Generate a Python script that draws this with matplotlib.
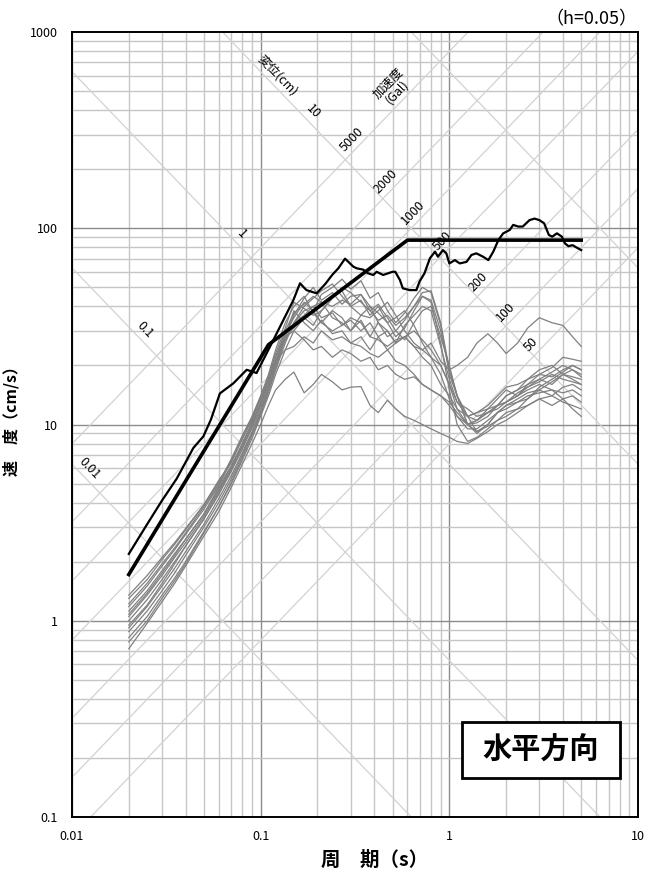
import numpy as np
import matplotlib
matplotlib.use("Agg")
import matplotlib.pyplot as plt
from matplotlib.patches import Rectangle
from matplotlib.ticker import NullFormatter

plt.rcParams['font.family'] = ['Noto Sans CJK JP', 'DejaVu Sans']

# period grid (s) shared by the gray records
period = [0.02, 0.025, 0.03, 0.035, 0.04, 0.05, 0.06, 0.07, 0.08, 0.09,
          0.1, 0.11, 0.12, 0.135, 0.15, 0.17, 0.19, 0.21, 0.24, 0.27,
          0.3, 0.34, 0.38, 0.42, 0.47, 0.52, 0.58, 0.65, 0.72, 0.8,
          0.9, 1.0, 1.1, 1.25, 1.4, 1.6, 1.8, 2.0, 2.3, 2.6,
          3.0, 3.5, 4.0, 4.5, 5.0]

# pseudo velocity (cm/s), gray records
gray_1 = [1.30, 1.62, 2.05, 2.45, 2.9, 3.9, 5.2, 6.4, 8.6, 10.5, 13.5, 17, 22, 29, 35, 42, 38, 46, 50, 55,
          49, 54, 44, 47, 38, 33, 37, 44, 50, 47, 32, 18, 14, 11, 10.5, 12, 13.5, 15, 14, 16, 17, 16, 18, 19, 17.5]
gray_2 = [1.12, 1.42, 1.8, 2.2, 2.6, 3.5, 4.8, 6.2, 8.0, 10.2, 12.5, 16, 21, 28, 36, 44, 50, 43, 47, 41,
          45, 46, 38, 41, 35, 30, 34, 40, 47, 48, 33, 19, 14, 11, 9.2, 10, 11.5, 12.5, 13.5, 14.5, 15, 14, 15.5, 16, 15]
gray_3 = [0.95, 1.2, 1.55, 1.95, 2.4, 3.3, 4.4, 5.8, 7.5, 9.6, 12, 15.5, 20, 27, 33, 40, 44, 48, 52, 45,
          40, 43, 36, 40, 33, 28, 31, 38, 45, 42, 26, 15, 10, 8.2, 8.6, 9.5, 10.5, 11, 12, 12.5, 13.5, 12.5, 13.5, 14, 13]
gray_4 = [1.22, 1.55, 1.95, 2.35, 2.8, 3.8, 5.0, 6.7, 8.8, 11, 14, 18, 24, 33, 40, 45, 37, 33, 38, 35,
          30, 34, 28, 33, 30, 26, 32, 36, 40, 38, 25, 17, 13, 11, 11.5, 12.5, 14, 15.5, 16, 17, 18, 17.5, 19, 20, 19]
gray_5 = [1.05, 1.35, 1.7, 2.1, 2.5, 3.4, 4.6, 6.0, 7.8, 9.8, 12.5, 16, 21, 27, 33, 38, 40, 35, 37, 32,
          34, 30, 33, 28, 30, 26, 28, 25, 24, 26, 21, 19, 20, 22, 26, 29, 26, 23, 26, 31, 35, 33, 32, 28, 25]
gray_6 = [0.88, 1.12, 1.42, 1.75, 2.15, 3.0, 4.0, 5.3, 7.0, 9.0, 11.5, 15, 20, 28, 38, 33, 30, 34, 29, 30,
          26, 28, 24, 28, 24, 21, 20, 18, 16, 15, 14, 12.5, 11, 10, 10.5, 11.5, 12.5, 14, 15, 17, 19, 20, 18, 17, 16]
gray_7 = [0.72, 0.97, 1.25, 1.55, 1.9, 2.7, 3.6, 4.8, 6.3, 8.0, 10, 12.5, 15, 17, 18.5, 14.5, 16, 18, 16.5, 15,
          15.5, 15.6, 12.5, 11.5, 13.3, 12, 11, 10.5, 10, 9.5, 9, 8.6, 8.2, 8.0, 8.5, 9.2, 10, 10.5, 11.5, 12.5, 13.5, 14, 13, 12.5, 12]
gray_8 = [0.82, 1.05, 1.35, 1.65, 2.0, 2.85, 3.8, 5.0, 6.6, 8.5, 11, 14, 18, 24, 30, 27, 24, 25, 22, 24,
          23, 21, 22, 19, 20, 18, 17, 17.5, 16, 15, 14, 13, 11.5, 10, 9.2, 9.8, 10.5, 11.5, 12, 13.5, 15, 16.5, 18, 17.5, 17]
gray_9 = [1.0, 1.28, 1.62, 2.0, 2.4, 3.3, 4.5, 5.9, 7.7, 9.9, 12.8, 16.5, 22, 28, 30, 35, 32, 38, 44, 48,
          40, 36, 35, 38, 42, 36, 30, 26, 24, 22, 20, 16, 12, 10, 9, 10, 11.5, 12.5, 13, 13.5, 15.5, 17, 18.5, 20, 19]
gray_10 = [1.18, 1.5, 1.9, 2.3, 2.75, 3.7, 4.9, 6.5, 8.4, 10.8, 13.8, 17.5, 23, 31, 42, 39, 36, 38, 44, 50,
           47, 42, 38, 34, 36, 32, 35, 40, 45, 43, 30, 19, 14, 10, 10.5, 11.5, 12, 13, 14, 15, 16, 15, 14.5, 15, 14]
gray_11 = [0.92, 1.18, 1.5, 1.85, 2.25, 3.1, 4.2, 5.5, 7.2, 9.2, 11.8, 15, 19, 28, 31, 35, 38, 33, 30, 32,
           35, 33, 28, 27, 25, 27, 28, 25, 22, 20, 16, 14, 12, 11, 11.5, 12, 12.5, 13, 14.5, 15.5, 17, 18.5, 20, 19, 18]
gray_12 = [1.08, 1.38, 1.75, 2.15, 2.6, 3.5, 4.7, 6.1, 8.0, 10.3, 13, 17, 22, 30, 37, 41, 45, 42, 40, 43,
           41, 46, 40, 37, 33, 35, 38, 32, 26, 22, 18, 13.5, 11, 9.5, 9.5, 10.5, 11.5, 12, 13, 14, 14.5, 15, 13.5, 12, 11]
gray_13 = [0.78, 1.0, 1.3, 1.6, 1.95, 2.8, 3.8, 5.1, 6.8, 8.8, 11.3, 14.5, 19, 26, 33, 36, 40, 42, 35, 33,
           30, 36, 40, 33, 28, 30, 27, 33, 38, 40, 28, 20, 14, 10, 10.2, 11, 12.5, 13, 14, 15.5, 16.5, 18, 17, 16.5, 16]
gray_14 = [1.35, 1.7, 2.1, 2.5, 2.95, 3.9, 5.1, 6.6, 8.5, 10.8, 13.5, 17, 21, 24, 25, 28, 26, 30, 27, 28,
           26, 25, 23, 22, 24, 26, 28, 30, 27, 24, 20, 16, 13, 12, 11, 11.5, 12.5, 14, 15, 16, 18, 19.5, 22, 21.5, 21]
gray_curves = [gray_1, gray_2, gray_3, gray_4, gray_5, gray_6, gray_7,
               gray_8, gray_9, gray_10, gray_11, gray_12, gray_13, gray_14]

# design spectrum (thick line)
design_T = [0.02, 0.11, 0.6, 5.0]
design_V = [1.72, 25.5, 87.0, 87.0]

# black record
black_T = [0.02, 0.025, 0.03, 0.0359, 0.044, 0.0497, 0.0545, 0.0608, 0.0716, 0.0843,
           0.0951, 0.112, 0.1318, 0.149, 0.1616, 0.1748, 0.198, 0.22, 0.24, 0.258,
           0.28, 0.31, 0.323, 0.35, 0.37, 0.395, 0.412, 0.446, 0.5, 0.517,
           0.547, 0.567, 0.617, 0.669, 0.695, 0.738, 0.789, 0.84, 0.87, 0.925,
           0.964, 1.0, 1.07, 1.136, 1.233, 1.31, 1.39, 1.51, 1.61, 1.71,
           1.82, 1.93, 2.09, 2.18, 2.32, 2.45, 2.66, 2.83, 3.0, 3.18,
           3.37, 3.51, 3.72, 3.95, 4.1, 4.28, 4.5, 4.7, 5.0]
black_V = [2.19, 3.1, 4.1, 5.3, 7.6, 8.7, 10.6, 14.4, 16.2, 19.0,
           18.3, 24.9, 34, 43, 52.4, 48.4, 46.6, 52, 58, 62.5,
           70, 63.7, 62.5, 61.5, 59, 57.8, 60, 57.8, 60, 60,
           54.5, 49.4, 48.4, 48.4, 53.5, 58.9, 70.3, 76, 71.6, 77.4,
           74.5, 66.2, 68.8, 66.2, 67.4, 73.1, 74.5, 71.6, 68.8, 76,
           87.1, 94.2, 98, 104, 102, 102, 110, 112, 110, 106,
           92.4, 90.6, 94.2, 90.6, 83.7, 81, 82, 80, 77.4]

# tripartite guide lines
disp_levels = [0.01, 0.1, 1, 10, 100]              # cm
acc_levels = [50, 100, 200, 500, 1000, 2000, 5000]  # Gal
disp_labels = ['0.01', '0.1', '1', '10']
disp_label_T = [0.0114, 0.0225, 0.073, 0.174]
acc_labels = ['50', '100', '200', '500', '1000', '2000', '5000']
acc_label_T = [2.95, 2.17, 1.55, 1.0, 0.7, 0.5, 0.33]

fig = plt.figure(figsize=(6.48, 8.73), dpi=100)
ax = fig.add_axes([72 / 648, 1 - 817 / 873, 566 / 648, 785 / 873])
ax.set_xscale('log')
ax.set_yscale('log')

# grid
for d in range(-2, 1):
    for m in range(1, 10):
        c = '#8c8c8c' if m == 1 else '#c6c6c6'
        ax.axvline(m * 10.0 ** d, color=c, lw=1.0, zorder=1)
for d in range(-1, 3):
    for m in range(1, 10):
        c = '#8c8c8c' if m == 1 else '#c6c6c6'
        ax.axhline(m * 10.0 ** d, color=c, lw=1.0, zorder=1)

tt = np.array([0.001, 100.0])
for D in disp_levels:
    ax.plot(tt, 2 * np.pi * D / tt, color='#d2d2d2', lw=0.9, zorder=2)
for A in acc_levels:
    ax.plot(tt, A * tt / (2 * np.pi), color='#d2d2d2', lw=0.9, zorder=2)

for lab, T in zip(disp_labels, disp_label_T):
    D = float(lab)
    ax.annotate(lab, (T, 2 * np.pi * D / T), xytext=(5, 5), textcoords='offset points',
                rotation=-46, ha='center', va='center', fontsize=9, zorder=3)
ax.annotate('変位(cm)', (0.1134, 2 * np.pi * 10 / 0.1134), xytext=(5, 5), textcoords='offset points',
            rotation=-46, ha='center', va='center', fontsize=9, zorder=3)
for lab, T in zip(acc_labels, acc_label_T):
    A = float(lab)
    ax.annotate(lab, (T, A * T / (2 * np.pi)), xytext=(-5, 5), textcoords='offset points',
                rotation=46, ha='center', va='center', fontsize=9, zorder=3)
ax.annotate('加速度\n(Gal)', (0.5, 520), rotation=46, ha='center', va='center',
            fontsize=9, linespacing=1.0, zorder=3)

for v in gray_curves:
    ax.plot(period, v, color='#808080', lw=0.9, zorder=4)
ax.plot(black_T, black_V, color='black', lw=1.6, zorder=5)
ax.plot(design_T, design_V, color='black', lw=2.6, zorder=6)

ax.set_xlim(0.01, 10)
ax.set_ylim(0.1, 1000)
ax.set_xticks([0.01, 0.1, 1, 10])
ax.set_xticklabels(['0.01', '0.1', '1', '10'])
ax.set_yticks([0.1, 1, 10, 100, 1000])
ax.set_yticklabels(['0.1', '1', '10', '100', '1000'])
ax.xaxis.set_minor_formatter(NullFormatter())
ax.yaxis.set_minor_formatter(NullFormatter())
ax.tick_params(which='both', length=0, labelsize=9)
ax.tick_params(axis='x', pad=9)
ax.tick_params(axis='y', pad=10)
for s in ax.spines.values():
    s.set_linewidth(1.4)
    s.set_zorder(10)

ax.set_xlabel('周\u3000期（s）', fontsize=14, fontweight='bold', labelpad=4)
ax.xaxis.set_label_coords(0.534, -0.043)
ax.set_ylabel('速\u3000度（cm/s）', fontsize=11.5, fontweight='bold')
ax.yaxis.set_label_coords(-0.092, 0.51)
fig.text(637 / 648, 1 - 19 / 873, '（h=0.05）', ha='right', va='center', fontsize=13)

ax.add_patch(Rectangle((0.6885, 0.0497), 0.2795, 0.0717, transform=ax.transAxes,
                       facecolor='white', edgecolor='black', lw=2, zorder=11))
ax.text(0.828, 0.0856, '水平方向', transform=ax.transAxes, ha='center', va='center',
        fontsize=21, fontweight='bold', zorder=12)

fig.savefig('out.png', dpi=100)
